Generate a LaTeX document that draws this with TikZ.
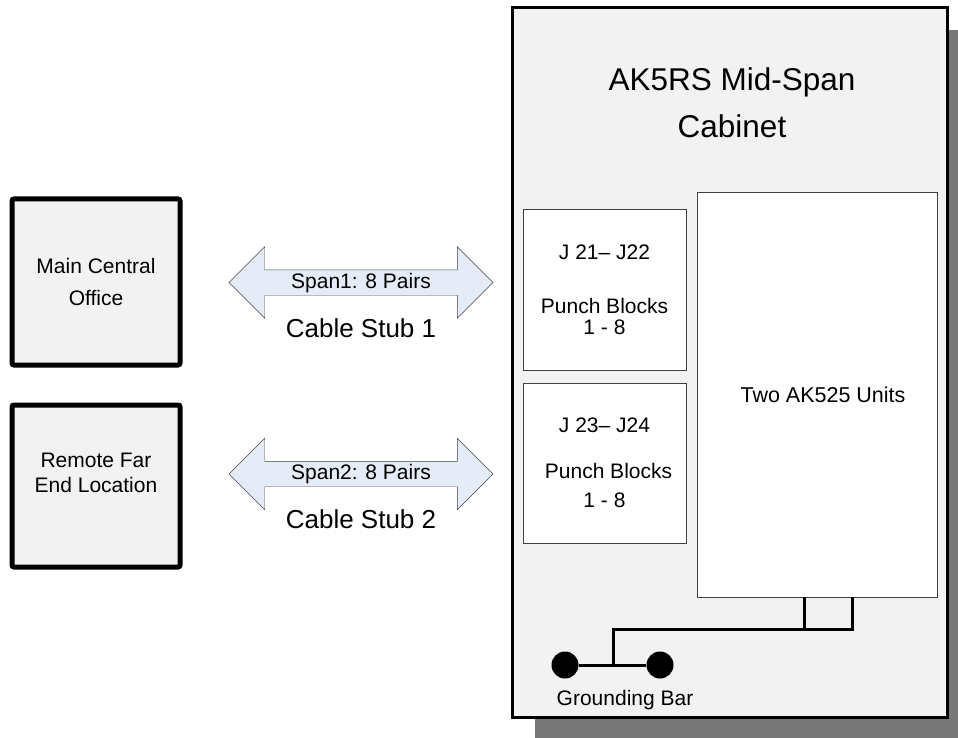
\documentclass[tikz,border=0pt]{standalone}
\usepackage{fontspec}
\setmainfont{Liberation Sans}
\usepackage{tikz}
\usetikzlibrary{shapes.arrows, positioning}

\definecolor{boxgray}{HTML}{F2F2F2}
\definecolor{shadowgray}{HTML}{777777}
\definecolor{spanblue}{HTML}{E6ECF7}
\definecolor{edgegray}{HTML}{404040}

\begin{document}
\begin{tikzpicture}[x=1pt, y=-1pt]

% --- Define Styles ---
\tikzstyle{site} = [rectangle, rounded corners=2pt, minimum width=168pt, minimum height=166pt, line width=5pt, draw=black, fill=boxgray, align=center, font=\fontsize{21}{32}\selectfont]
\tikzstyle{span} = [double arrow, double arrow head extend=23pt, minimum height=264pt, inner xsep=0pt, inner ysep=0pt, text height=18pt, text depth=7pt, draw=edgegray, fill=spanblue, font=\fontsize{21}{24}\selectfont]
\tikzstyle{stub} = [inner sep=0pt, font=\fontsize{26}{30}\selectfont]
\tikzstyle{punch} = [rectangle, minimum width=163pt, minimum height=161pt, draw=edgegray, fill=white, align=center, font=\fontsize{21}{21}\selectfont]
\tikzstyle{gline} = [line width=3pt, black]
\tikzstyle{gdot} = [circle, fill=black, minimum size=27pt, inner sep=0pt]

\useasboundingbox (0,0) rectangle (958,738);

% --- Cabinet ---
\fill [shadowgray] (535,30) rectangle (970,739);
\node (cab) [rectangle, minimum width=435pt, minimum height=709pt, line width=3pt, draw=black, fill=boxgray] at (729.5,362.5) {};
\node (title) [align=center, font=\fontsize{31.5}{47}\selectfont] at (732,103) {AK5RS Mid-Span\\Cabinet};

% --- Nodes ---
\node (mco) [site] at (96,282) {Main Central\\Office};
\node (rfe) [site, minimum height=162pt, label={[font=\fontsize{21}{25}\selectfont, align=center, yshift=13pt]center:Remote Far\\End Location}] at (96,486) {};

\node (span1) [span] at (361,282.5) {Span1: 8 Pairs};
\node (stub1) [stub] at (361,328) {Cable Stub 1};
\node (span2) [span] at (361,474) {Span2: 8 Pairs};
\node (stub2) [stub] at (361,519) {Cable Stub 2};

\node (pb1) [punch] at (604.5,290) {J 21-- J22\\[33pt]Punch Blocks\\1 - 8};
\node (pb2) [punch, minimum height=160pt] at (604.5,463) {J 23-- J24\\[25pt]\hspace{8pt}Punch Blocks\\[8pt]1 - 8};
\node (units) [punch, minimum width=240pt, minimum height=405pt, font=\fontsize{21.5}{24}\selectfont] at (817,394.5) {\hspace{12pt}Two AK525 Units};

% --- Grounding ---
\node (gndL) [gdot] at (565,665) {};
\node (gndR) [gdot] at (660,665) {};
\node (gndtext) [font=\fontsize{21}{25}\selectfont] at (625,700) {Grounding Bar};
\coordinate (tapA) at (804,597);
\coordinate (tapB) at (852,597);
\coordinate (bus) at (613,629);

\draw [gline] (tapA) -- (tapA |- bus);
\draw [gline] (tapB) -- (tapB |- bus) -- (bus) -- (bus |- gndL);
\draw [gline] (gndL) -- (gndR);

\end{tikzpicture}
\end{document}
